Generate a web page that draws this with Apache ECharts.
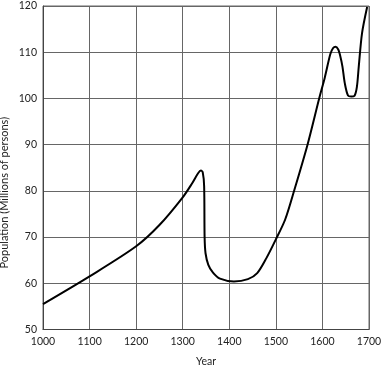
<!DOCTYPE html>
<html>
<head>
<meta charset="utf-8">
<script src="https://cdn.jsdelivr.net/npm/echarts@6/dist/echarts.min.js"></script>
<style>
html,body{margin:0;padding:0;background:#fff;}
#chart{width:388px;height:370px;}
</style>
</head>
<body>
<div id="chart"></div>
<script>
// Data
const years = [1000, 1100, 1200, 1250, 1300, 1320, 1333, 1339, 1343, 1346, 1347, 1349, 1355, 1365, 1380, 1410, 1440, 1460, 1480, 1500, 1520, 1540, 1568, 1593, 1605, 1617, 1623, 1628, 1634, 1638, 1643, 1648, 1655, 1662, 1669, 1674, 1678, 1685, 1696];
const population = [55.5, 61.5, 68.0, 72.6, 78.6, 81.6, 83.8, 84.4, 84.0, 81.0, 70.0, 66.5, 64.0, 62.3, 61.0, 60.4, 60.9, 62.2, 65.5, 69.5, 73.8, 80.3, 90.0, 100.0, 104.5, 109.6, 110.9, 111.2, 110.6, 109.3, 106.9, 103.3, 100.6, 100.4, 100.6, 102.5, 106.9, 114.1, 119.8];
const xTicks = {min: 1000, max: 1700, interval: 100};
const yTicks = {min: 50, max: 120, interval: 10};
const xTitle = 'Year';
const yTitle = 'Population (Millions of persons)';

const chart = echarts.init(document.getElementById('chart'), null, {renderer: 'canvas'});
const font = 'Lato';
chart.setOption({
  animation: false,
  grid: {left: 43, right: 19, top: 6, bottom: 40.5, show: true, borderColor: '#666', borderWidth: 1, containLabel: false, outerBoundsMode: 'none'},
  xAxis: {
    type: 'value', min: xTicks.min, max: xTicks.max, interval: xTicks.interval,
    name: xTitle, nameLocation: 'middle', nameGap: 27, nameMoveOverlap: false,
    nameTextStyle: {fontFamily: font, fontSize: 10.5, color: '#222'},
    axisLine: {show: true, lineStyle: {color: '#444', width: 1}},
    axisTick: {show: false},
    axisLabel: {fontFamily: font, fontSize: 10.5, color: '#222', margin: 7, formatter: v => String(v)},
    splitLine: {show: true, lineStyle: {color: '#666', width: 1}}
  },
  yAxis: {
    type: 'value', min: yTicks.min, max: yTicks.max, interval: yTicks.interval,
    name: yTitle, nameLocation: 'middle', nameGap: 33, nameMoveOverlap: false,
    nameTextStyle: {fontFamily: font, fontSize: 11, color: '#222', padding: [0, 50, 0, 0]},
    axisLine: {show: true, lineStyle: {color: '#444', width: 1}},
    axisTick: {show: false},
    axisLabel: {fontFamily: font, fontSize: 10.5, color: '#222', margin: 6, formatter: v => String(v)},
    splitLine: {show: true, lineStyle: {color: '#666', width: 1}}
  },
  series: [{
    type: 'line',
    data: years.map((y, i) => [y, population[i]]),
    showSymbol: false,
    smooth: 0.3,
    lineStyle: {color: '#000', width: 2}
  }]
});
</script>
</body>
</html>
